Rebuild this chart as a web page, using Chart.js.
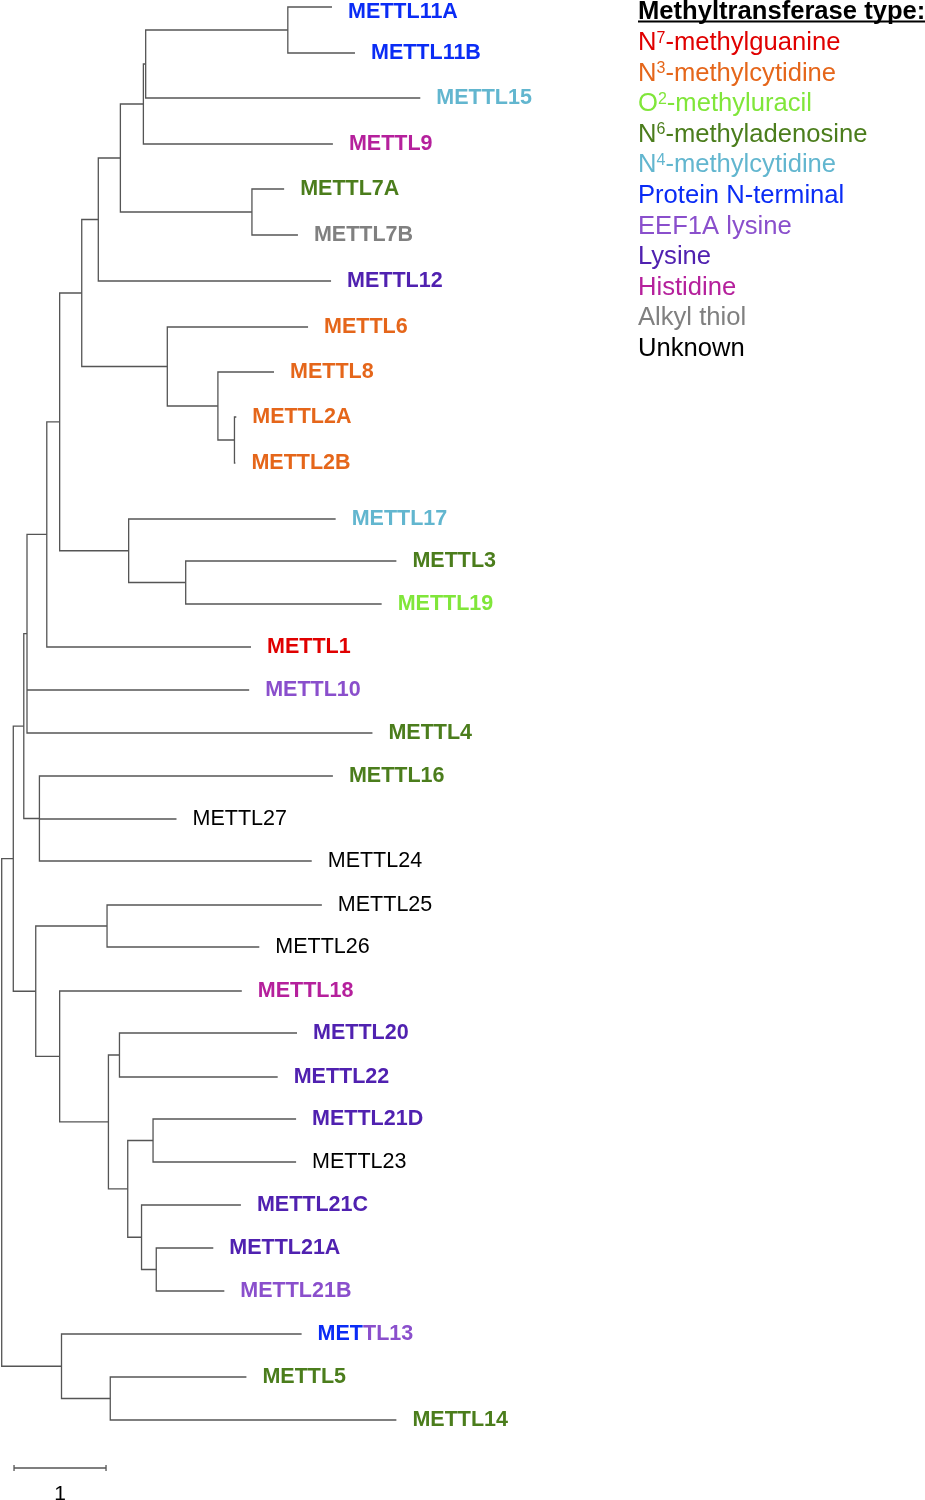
<!DOCTYPE html>
<html>
<head>
<meta charset="utf-8">
<script src="https://cdn.jsdelivr.net/npm/chart.js@4/dist/chart.umd.min.js"></script>
<style>
  html, body { margin: 0; padding: 0; background: #ffffff; overflow: hidden; }
  canvas { display: block; }
</style>
</head>
<body>
<canvas id="tree" width="925" height="1500"></canvas>
<script>
// leaves, top to bottom
var leaves = ['METTL11A', 'METTL11B', 'METTL15', 'METTL9', 'METTL7A', 'METTL7B', 'METTL12',
  'METTL6', 'METTL8', 'METTL2A', 'METTL2B', 'METTL17', 'METTL3', 'METTL19', 'METTL1',
  'METTL10', 'METTL4', 'METTL16', 'METTL27', 'METTL24', 'METTL25', 'METTL26', 'METTL18',
  'METTL20', 'METTL22', 'METTL21D', 'METTL23', 'METTL21C', 'METTL21A', 'METTL21B',
  'METTL13', 'METTL5', 'METTL14'];

var leafType = ['Protein N-terminal', 'Protein N-terminal', 'N4-methylcytidine', 'Histidine',
  'N6-methyladenosine', 'Alkyl thiol', 'Lysine', 'N3-methylcytidine', 'N3-methylcytidine',
  'N3-methylcytidine', 'N3-methylcytidine', 'N4-methylcytidine', 'N6-methyladenosine',
  'O2-methyluracil', 'N7-methylguanine', 'EEF1A lysine', 'N6-methyladenosine',
  'N6-methyladenosine', 'Unknown', 'Unknown', 'Unknown', 'Unknown', 'Histidine', 'Lysine',
  'Lysine', 'Lysine', 'Unknown', 'Lysine', 'Lysine', 'EEF1A lysine', 'Protein N-terminal',
  'N6-methyladenosine', 'N6-methyladenosine'];

// METTL13 label is two-coloured: first 3 letters one type, rest another
var splitLabels = { 'METTL13': [3, 'EEF1A lysine'] };

// distance from root (branch length units) of each tip
var leafDepth = [3.59, 3.84, 4.55, 3.60, 3.07, 3.22, 3.58, 3.33, 2.96, 2.55, 2.54, 3.63, 4.29,
  4.13, 2.71, 2.69, 4.03, 3.60, 1.90, 3.37, 3.48, 2.80, 2.61, 3.21, 3.00, 3.20, 3.20, 2.60,
  2.30, 2.42, 3.26, 2.66, 4.29];

// vertical row of each tip
var leafRow = [7, 53, 98, 144, 189, 235, 281, 327, 372, 417, 463, 519, 561, 604, 647, 690,
  733, 776, 819, 861, 905, 947, 991, 1033, 1077, 1119, 1162, 1205, 1248, 1291, 1334, 1377, 1420];

// internal nodes: [name, depth, children]
var clades = [
  ['n11', 3.11, ['METTL11A', 'METTL11B']],
  ['nA', 1.565, ['n11', 'METTL15']],
  ['nB', 1.54, ['nA', 'METTL9']],
  ['n7', 2.72, ['METTL7A', 'METTL7B']],
  ['nC', 1.29, ['nB', 'n7']],
  ['nD', 1.05, ['nC', 'METTL12']],
  ['nH', 2.53, ['METTL2A', 'METTL2B']],
  ['nG', 2.35, ['METTL8', 'nH']],
  ['nF', 1.80, ['METTL6', 'nG']],
  ['nE', 0.87, ['nD', 'nF']],
  ['nK', 2.00, ['METTL3', 'METTL19']],
  ['nJ', 1.38, ['METTL17', 'nK']],
  ['nI', 0.63, ['nE', 'nJ']],
  ['nL', 0.49, ['nI', 'METTL1']],
  ['nM', 0.275, ['nL', 'METTL10', 'METTL4']],
  ['nO', 0.41, ['METTL16', 'METTL27', 'METTL24']],
  ['nN', 0.24, ['nM', 'nO']],
  ['n25', 1.145, ['METTL25', 'METTL26']],
  ['nU', 1.28, ['METTL20', 'METTL22']],
  ['nW', 1.645, ['METTL21D', 'METTL23']],
  ['nY', 1.68, ['METTL21A', 'METTL21B']],
  ['nX', 1.52, ['METTL21C', 'nY']],
  ['nV', 1.37, ['nW', 'nX']],
  ['nT', 1.16, ['nU', 'nV']],
  ['nR', 0.63, ['METTL18', 'nT']],
  ['nQ', 0.37, ['n25', 'nR']],
  ['nP', 0.126, ['nN', 'nQ']],
  ['nZ', 1.18, ['METTL5', 'METTL14']],
  ['nS', 0.65, ['METTL13', 'nZ']],
  ['root', 0, ['nP', 'nS']]
];

var types = ['N7-methylguanine', 'N3-methylcytidine', 'O2-methyluracil', 'N6-methyladenosine',
  'N4-methylcytidine', 'Protein N-terminal', 'EEF1A lysine', 'Lysine', 'Histidine',
  'Alkyl thiol', 'Unknown'];
var typeColors = ['#e00000', '#e5661a', '#80e63a', '#4b7d1c', '#62b6cf', '#0a2cf5', '#8a4fcc',
  '#5021b0', '#b5209c', '#808080', '#000000'];

var FONT = '"Liberation Sans", Arial, Helvetica, sans-serif';
var BRANCH = '#555555';

function colorOf(type) {
  return typeColors[types.indexOf(type)];
}

// node positions
var pos = {};
leaves.forEach(function (name, i) {
  pos[name] = { x: leafDepth[i], y: leafRow[i] };
});
var cladeMap = {};
clades.forEach(function (c) { cladeMap[c[0]] = c; });

function place(name) {
  if (pos[name]) return pos[name];
  var c = cladeMap[name];
  var kids = c[2];
  var first = place(kids[0]);
  var last = place(kids[kids.length - 1]);
  pos[name] = { x: c[1], y: (first.y + last.y) / 2 };
  return pos[name];
}

var datasets = [];
function branch(points) {
  datasets.push({
    data: points,
    showLine: true,
    borderColor: BRANCH,
    borderWidth: 1.3,
    pointRadius: 0,
    fill: false
  });
}

clades.forEach(function (c) {
  var me = place(c[0]);
  var kids = c[2].map(place);
  var first = kids[0];
  var last = kids[kids.length - 1];
  branch([
    { x: first.x, y: first.y },
    { x: me.x, y: first.y },
    { x: me.x, y: last.y },
    { x: last.x, y: last.y }
  ]);
  for (var k = 1; k < kids.length - 1; k++) {
    branch([{ x: me.x, y: kids[k].y }, { x: kids[k].x, y: kids[k].y }]);
  }
});

// scale bar (1 unit)
var barStart = 0.134, barLength = 1, barRow = 1468;
branch([{ x: barStart, y: barRow }, { x: barStart + barLength, y: barRow }]);
branch([{ x: barStart, y: barRow - 3 }, { x: barStart, y: barRow + 3 }]);
branch([{ x: barStart + barLength, y: barRow - 3 }, { x: barStart + barLength, y: barRow + 3 }]);

var labelsPlugin = {
  id: 'treeLabels',
  beforeDraw: function (chart) {
    var ctx = chart.ctx;
    ctx.save();
    ctx.fillStyle = '#ffffff';
    ctx.fillRect(0, 0, chart.width, chart.height);
    ctx.restore();
  },
  afterDraw: function (chart) {
    var ctx = chart.ctx;
    var xs = chart.scales.x, ys = chart.scales.y;
    ctx.save();

    // tip labels
    ctx.textBaseline = 'middle';
    ctx.textAlign = 'left';
    leaves.forEach(function (name, i) {
      var px = xs.getPixelForValue(leafDepth[i]) + 16;
      // keep the top label inside the picture
      var py = Math.max(ys.getPixelForValue(leafRow[i]), 12);
      var type = leafType[i];
      ctx.font = (type === 'Unknown' ? '' : 'bold ') + '21.5px ' + FONT;
      var split = splitLabels[name];
      if (split) {
        var head = name.slice(0, split[0]);
        ctx.fillStyle = colorOf(type);
        ctx.fillText(head, px, py);
        ctx.fillStyle = colorOf(split[1]);
        ctx.fillText(name.slice(split[0]), px + ctx.measureText(head).width, py);
      } else {
        ctx.fillStyle = colorOf(type);
        ctx.fillText(name, px, py);
      }
    });

    // scale bar label
    ctx.font = '21px ' + FONT;
    ctx.fillStyle = '#000000';
    ctx.textAlign = 'center';
    ctx.textBaseline = 'alphabetic';
    ctx.fillText(String(barLength), xs.getPixelForValue(barStart + barLength / 2), ys.getPixelForValue(1500));

    // legend
    ctx.textAlign = 'left';
    var lx = 638;
    ctx.font = 'bold 25.6px ' + FONT;
    var title = 'Methyltransferase type:';
    ctx.fillText(title, lx, 18.5);
    ctx.fillRect(lx, 20.5, ctx.measureText(title).width, 2);

    types.forEach(function (t, i) {
      var yb = 50 + 30.6 * i;
      ctx.fillStyle = typeColors[i];
      var m = t.match(/^([NO])(\d)(.*)$/);
      if (m) {
        ctx.font = '25.6px ' + FONT;
        ctx.fillText(m[1], lx, yb);
        var x = lx + ctx.measureText(m[1]).width;
        ctx.font = '16px ' + FONT;
        ctx.fillText(m[2], x, yb - 7.5);
        x += ctx.measureText(m[2]).width;
        ctx.font = '25.6px ' + FONT;
        ctx.fillText(m[3], x, yb);
      } else {
        ctx.font = '25.6px ' + FONT;
        ctx.fillText(t, lx, yb);
      }
    });
    ctx.restore();
  }
};

var xMin = -1.7 / 92;
var config = {
  type: 'scatter',
  data: { datasets: datasets },
  options: {
    responsive: false,
    animation: false,
    events: [],
    layout: { padding: 0 },
    plugins: {
      legend: { display: false },
      tooltip: { enabled: false }
    },
    scales: {
      x: { type: 'linear', min: xMin, max: xMin + 925 / 92, display: false },
      y: { type: 'linear', min: 0, max: 1500, reverse: true, display: false }
    }
  },
  plugins: [labelsPlugin]
};

new Chart(document.getElementById('tree').getContext('2d'), config);
</script>
</body>
</html>
